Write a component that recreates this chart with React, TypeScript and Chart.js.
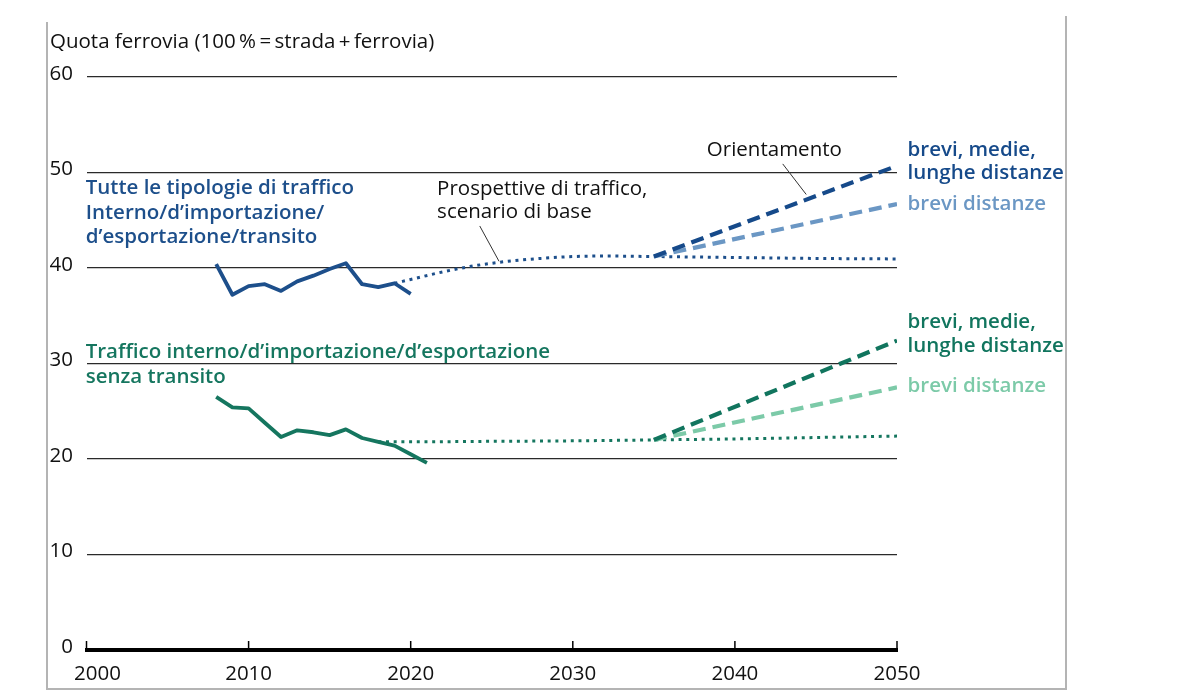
import React, { useEffect, useRef } from "react";
import { Chart, registerables } from "chart.js";

Chart.register(...registerables);

// ---------- data ----------
const xTicks = [2000, 2010, 2020, 2030, 2040, 2050];
const yTicks = [0, 10, 20, 30, 40, 50, 60];

const allYears = [2008, 2009, 2010, 2011, 2012, 2013, 2014, 2015, 2016, 2017, 2018, 2019, 2020];
const allShare = [40.4, 37.2, 38.1, 38.3, 37.6, 38.6, 39.2, 39.9, 40.5, 38.3, 38.0, 38.4, 37.3];

const allBaseYears = [2019, 2020, 2022, 2024, 2026, 2028, 2030, 2032, 2035, 2040, 2045, 2050];
const allBaseShare = [38.4, 38.8, 39.6, 40.25, 40.7, 41.0, 41.2, 41.25, 41.2, 41.1, 41.0, 40.95];

const targetYears = [2035, 2050];
const allLongShare = [41.2, 50.7];
const allShortShare = [41.2, 46.7];

const noTransitYears = [2008, 2009, 2010, 2011, 2012, 2013, 2014, 2015, 2016, 2017, 2018, 2019, 2020, 2021];
const noTransitShare = [26.5, 25.4, 25.3, 23.8, 22.3, 23.0, 22.8, 22.5, 23.1, 22.2, 21.8, 21.4, 20.5, 19.6];

const noTransitBaseYears = [2018, 2020, 2025, 2030, 2035, 2040, 2045, 2050];
const noTransitBaseShare = [21.8, 21.8, 21.85, 21.9, 22.0, 22.1, 22.25, 22.4];

const noTransitLongShare = [22.0, 32.4];
const noTransitShortShare = [22.0, 27.5];

// ---------- text ----------
const axisTitle = "Quota ferrovia (100\u2009%\u2009=\u2009strada\u2009+\u2009ferrovia)";
const allLabelLines = ["Tutte le tipologie di traffico", "Interno/d\u2019importazione/", "d\u2019esportazione/transito"];
const noTransitLabelLines = ["Traffico interno/d\u2019importazione/d\u2019esportazione", "senza transito"];
const baseLabelLines = ["Prospettive di traffico,", "scenario di base"];
const targetLabel = "Orientamento";
const longLabelLines = ["brevi, medie,", "lunghe distanze"];
const shortLabel = "brevi distanze";

const C_BLUE = "#1d4f8b";
const C_BLUE_D = "#164a8a";
const C_BLUE_L = "#6b97c4";
const C_GREEN = "#15765f";
const C_GREEN_D = "#11755e";
const C_GREEN_L = "#7ccaa8";
const FONT = "'Open Sans', 'Noto Sans', sans-serif";
const FS = 20.5;

const pts = (xs: number[], ys: number[]) => xs.map((x, i) => ({ x, y: ys[i] }));

const DOT = [3, 4.7];
const DASH = [13, 7];

const decorPlugin = {
  id: "decor",
  afterDraw(chart: any) {
    const { ctx, scales } = chart;
    const xs = scales.x;
    const ys = scales.y;
    const X = (v: number) => xs.getPixelForValue(v);
    const Y = (v: number) => ys.getPixelForValue(v);
    ctx.save();

    // frame
    ctx.strokeStyle = "#b4b4b4";
    ctx.lineWidth = 2;
    ctx.beginPath();
    ctx.moveTo(47, 22);
    ctx.lineTo(47, 689);
    ctx.lineTo(1066, 689);
    ctx.lineTo(1066, 16);
    ctx.stroke();

    // upward tick marks on x axis + labels
    ctx.strokeStyle = "#000";
    ctx.lineWidth = 1.5;
    const bottom = chart.chartArea.bottom;
    ctx.fillStyle = "#111";
    ctx.font = `${FS}px ${FONT}`;
    ctx.textBaseline = "alphabetic";
    xTicks.forEach((t, i) => {
      const px = X(t);
      ctx.beginPath();
      ctx.moveTo(px, bottom);
      ctx.lineTo(px, bottom - 9);
      ctx.stroke();
      if (i === 0) {
        ctx.textAlign = "left";
        ctx.fillText(String(t), px - 12.5, bottom + 30);
      } else {
        ctx.textAlign = "center";
        ctx.fillText(String(t), px, bottom + 30);
      }
    });

    // axis title
    ctx.fillStyle = "#111";
    ctx.textBaseline = "alphabetic";
    ctx.textAlign = "left";
    ctx.font = `${FS}px ${FONT}`;
    ctx.fillText(axisTitle, 50, 48);

    const lines = (arr: string[], year: number, vals: number[], color: string, weight: string) => {
      ctx.fillStyle = color;
      ctx.font = `${weight} ${FS}px ${FONT}`;
      arr.forEach((s, i) => ctx.fillText(s, X(year), Y(vals[i])));
    };

    lines(allLabelLines, 1999.95, [47.77, 45.18, 42.66], C_BLUE, "600");
    lines(noTransitLabelLines, 1999.95, [30.58, 27.96], C_GREEN, "600");
    lines(baseLabelLines, 2021.63, [47.69, 45.28], "#111", "normal");
    lines([targetLabel], 2038.27, [51.68], "#111", "normal");
    lines(longLabelLines, 2050.65, [51.68, 49.27], C_BLUE_D, "600");
    lines([shortLabel], 2050.65, [46.12], C_BLUE_L, "600");
    lines(longLabelLines, 2050.65, [33.75, 31.16], C_GREEN_D, "600");
    lines([shortLabel], 2050.65, [27.04], C_GREEN_L, "600");

    // leader lines
    ctx.strokeStyle = "#333";
    ctx.lineWidth = 1;
    ctx.beginPath();
    ctx.moveTo(X(2042.95), Y(50.9));
    ctx.lineTo(X(2044.4), Y(47.7));
    ctx.moveTo(X(2024.26), Y(44.4));
    ctx.lineTo(X(2025.45), Y(40.7));
    ctx.stroke();

    ctx.restore();
  },
};

export default function App() {
  const ref = useRef<HTMLCanvasElement>(null);

  useEffect(() => {
    document.body.style.margin = "0";
    Chart.defaults.font.family = FONT;
    const line = (data: any, color: string, width: number, dash: number[] = [], extra: any = {}) => ({
      data,
      borderColor: color,
      backgroundColor: color,
      borderWidth: width,
      borderDash: dash,
      pointRadius: 0,
      fill: false,
      tension: 0,
      borderCapStyle: "butt",
      borderJoinStyle: "round",
      ...extra,
    });

    const chart = new Chart(ref.current!, {
      type: "line",
      data: {
        datasets: [
          line(pts(allYears, allShare), C_BLUE, 3.8),
          line(pts(noTransitYears, noTransitShare), C_GREEN, 3.8),
          line(pts(targetYears, allLongShare), C_BLUE_D, 4.2, DASH),
          line(pts(targetYears, allShortShare), C_BLUE_L, 4.2, DASH),
          line(pts(targetYears, noTransitLongShare), C_GREEN_D, 4.2, DASH),
          line(pts(targetYears, noTransitShortShare), C_GREEN_L, 4.2, DASH),
          line(pts(allBaseYears, allBaseShare), C_BLUE, 3, DOT, { cubicInterpolationMode: "monotone" }),
          line(pts(noTransitBaseYears, noTransitBaseShare), C_GREEN, 3, DOT, { cubicInterpolationMode: "monotone" }),
        ],
      },
      options: {
        responsive: false,
        animation: false,
        events: [],
        layout: { padding: { left: 50, right: 280, top: 77, bottom: 0 } },
        plugins: { legend: { display: false }, tooltip: { enabled: false }, title: { display: false } },
        scales: {
          x: {
            type: "linear",
            min: 2000,
            max: 2050,
            afterFit: (s: any) => {
              s.height = 41;
            },
            afterBuildTicks: (s: any) => {
              s.ticks = xTicks.map((v) => ({ value: v }));
            },
            ticks: { display: false },
            grid: { display: false, drawTicks: false },
            border: { display: true, color: "#000", width: 4 },
          },
          y: {
            min: 0,
            max: 60,
            afterFit: (s: any) => {
              s.width = 36.5;
            },
            afterBuildTicks: (s: any) => {
              s.ticks = yTicks.map((v) => ({ value: v }));
            },
            ticks: {
              callback: (v: any) => String(v),
              color: "#111",
              font: { size: FS },
              crossAlign: "near",
              labelOffset: -3,
              padding: 13.5,
            },
            grid: {
              drawTicks: false,
              color: (c: any) => (c.tick && c.tick.value === 0 ? "rgba(0,0,0,0)" : "#2a2a2a"),
              lineWidth: 1.2,
            },
            border: { display: false },
          },
        },
      },
      plugins: [decorPlugin],
    } as any);
    return () => chart.destroy();
  }, []);

  return (
    <div style={{ width: 1177, height: 691, position: "relative" }}>
      <canvas ref={ref} width={1177} height={691} style={{ display: "block" }} />
    </div>
  );
}
